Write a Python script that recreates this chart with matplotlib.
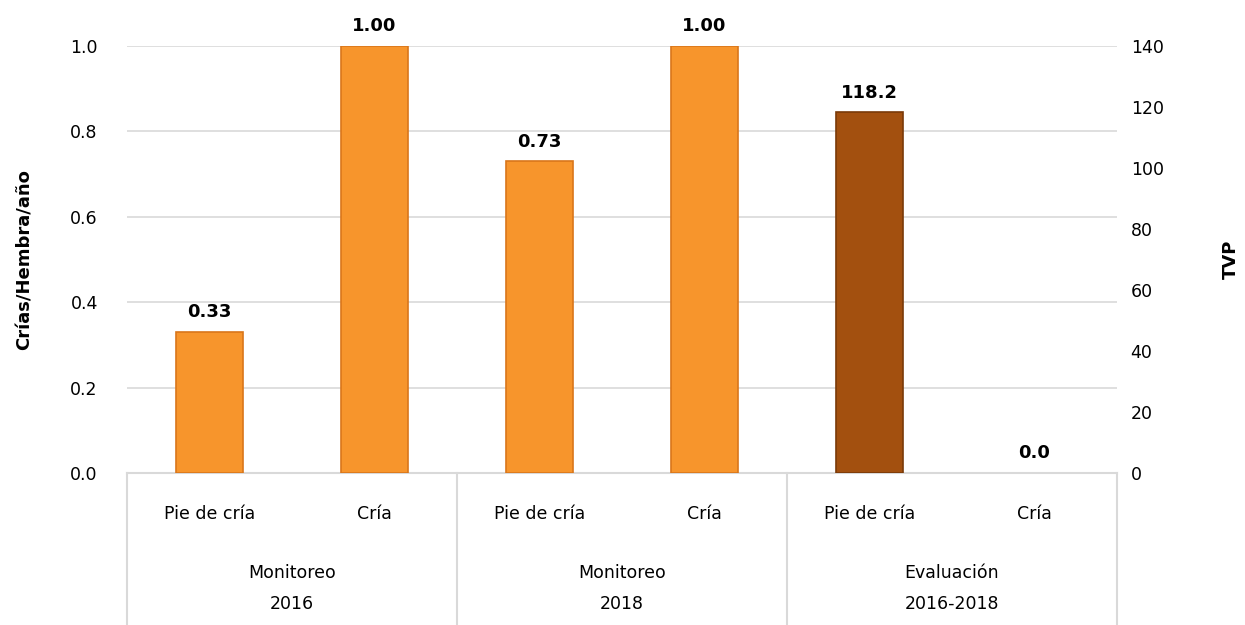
import matplotlib.pyplot as plt
import numpy as np
from matplotlib.transforms import blended_transform_factory

# data
sub_labels = ["Pie de cría", "Cría", "Pie de cría", "Cría", "Pie de cría", "Cría"]
group_labels = ["Monitoreo\n2016", "Monitoreo\n2018", "Evaluación\n2016-2018"]
crias_hembra = [0.33, 1.00, 0.73, 1.00]   # left axis, first 4 bars
tvp = [118.2, 0.0]                         # right axis, last 2 bars

orange = "#F7952C"
orange_edge = "#D9761A"
brown = "#A3500F"
brown_edge = "#7A3A08"
grid_col = "#D9D9D9"

plt.rcParams['font.family'] = ['DejaVu Sans']

fig = plt.figure(figsize=(12.45, 6.25), dpi=100)
ax = fig.add_axes([0.102, 0.2432, 0.795, 0.6832])
ax2 = ax.twinx()

x = np.arange(len(sub_labels))
w = 0.41

ax.bar(x[:4], crias_hembra, width=w, color=orange, edgecolor=orange_edge, linewidth=1.2, zorder=3)
ax2.bar(x[4:], tvp, width=w, color=brown, edgecolor=brown_edge,
        linewidth=[1.2 if v > 0 else 0 for v in tvp], zorder=3)

for xi, v in zip(x[:4], crias_hembra):
    ax.text(xi, v + 0.025, f"{v:.2f}", ha="center", va="bottom", fontsize=13, fontweight="bold")
for xi, v in zip(x[4:], tvp):
    ax2.text(xi, v + 3.5, f"{v:.1f}", ha="center", va="bottom", fontsize=13, fontweight="bold")

ax.set_xlim(-0.5, 5.5)
ax.set_ylim(0, 1.0)
ax2.set_ylim(0, 140)
ax.set_yticks(np.arange(0, 1.01, 0.2))
ax.set_yticklabels([f"{t:.1f}" for t in np.arange(0, 1.01, 0.2)])
ax2.set_yticks(np.arange(0, 141, 20))
ax.yaxis.grid(True, color=grid_col, linewidth=1.2, zorder=0)
ax.set_axisbelow(True)

for a in (ax, ax2):
    for s in a.spines.values():
        s.set_visible(False)
    a.tick_params(axis="both", length=0, labelsize=12.5)
ax.tick_params(axis="y", pad=21)
ax2.tick_params(axis="y", pad=10)
ax.set_xticks([])

ax.set_ylabel("Crías/Hembra/año", fontsize=13, fontweight="bold", labelpad=26)
ax2.set_ylabel("TVP", fontsize=13, fontweight="bold", labelpad=42)

# multi-level category axis
tr = blended_transform_factory(ax.transData, ax.transAxes)
ax.plot([-0.5, 5.5], [0, 0], color=grid_col, lw=1.5, transform=tr, clip_on=False)
for b in [-0.5, 1.5, 3.5, 5.5]:
    ax.plot([b, b], [0, -0.37], color=grid_col, lw=1.5, transform=tr, clip_on=False)
for xi, lab in zip(x, sub_labels):
    ax.text(xi, -0.095, lab, ha="center", va="center", fontsize=12.5, transform=tr)
for gi, lab in enumerate(group_labels):
    ax.text(2 * gi + 0.5, -0.27, lab, ha="center", va="center", fontsize=12.5,
            linespacing=1.9, transform=tr)

plt.savefig("out.png", dpi=100)
plt.close()
